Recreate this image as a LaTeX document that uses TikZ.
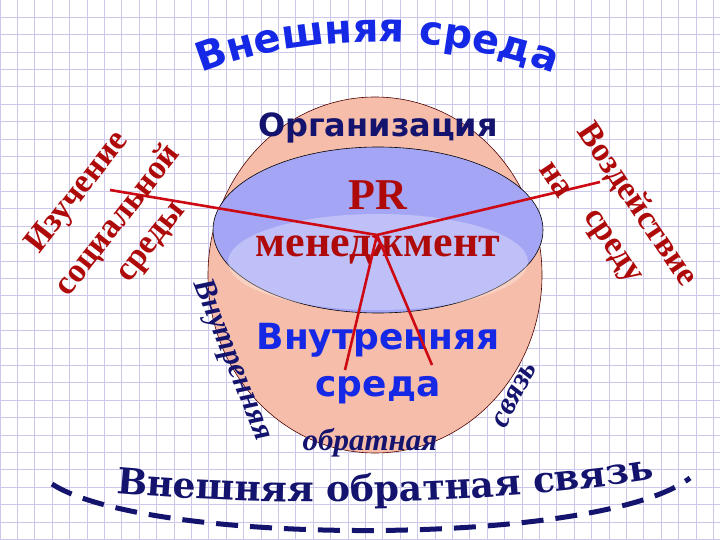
\documentclass[tikz,border=0pt]{standalone}
\usepackage{fontspec}
\setmainfont{DejaVu Sans}
\newfontfamily\dvb{DejaVu Sans Bold}
\newfontfamily\monob{Liberation Serif Bold}
\newfontfamily\dsb{DejaVu Serif Bold}
\newfontfamily\serbi{Liberation Serif Bold Italic}
\usetikzlibrary{decorations.text}
\definecolor{gridc}{RGB}{205,200,235}
\definecolor{peach}{RGB}{246,190,170}
\definecolor{lblue}{RGB}{165,165,245}
\definecolor{navy}{RGB}{20,20,110}
\definecolor{dred}{RGB}{175,10,10}
\definecolor{bblue}{RGB}{20,40,230}
\definecolor{lred}{RGB}{205,10,20}
\tikzset{redtxt/.style={text=dred,font=\monob\fontsize{34}{34}\selectfont},
 bluit/.style={text=navy,font=\serbi\fontsize{31}{31}\selectfont},
 ray/.style={draw=lred,line width=2.6pt}}
\begin{document}
\begin{tikzpicture}[x=1pt,y=-1pt]
\useasboundingbox (0,0) rectangle (720,540);
\fill[white] (0,0) rectangle (720,540);
\foreach \i in {0,...,42} {\draw[gridc,line width=1pt] (\i*17.4,0) -- (\i*17.4,540);}
\foreach \i in {0,...,31} {\draw[gridc,line width=1pt] (0,\i*17.4) -- (720,\i*17.4);}
% circles
\filldraw[fill=peach,draw=black!70!red,line width=0.6pt] (375,275) ellipse [x radius=167,y radius=178];
\filldraw[fill=lblue,draw=black,line width=0.6pt] (378,230) ellipse [x radius=165,y radius=83];
\fill[white,opacity=0.3] (378,262) ellipse [x radius=150,y radius=48];
% texts in circle
\node[text=navy,font=\dvb\fontsize{32}{32}\selectfont] (org) at (378,128) {Организация};
\node[text=dred,font=\monob\fontsize{44}{44}\selectfont] (pr) at (378,195) {PR};
\node[text=dred,font=\monob\fontsize{44}{44}\selectfont] (men) at (378,250) {менеджмент};
\node[text=bblue,font=\dvb\fontsize{36}{36}\selectfont] (vn) at (378,340) {Внутренняя};
\node[text=bblue,font=\dvb\fontsize{36}{36}\selectfont] (sr) at (378,390) {среда};
% rays
\coordinate (c) at (377,235);
\coordinate (e1) at (110,190);
\coordinate (e2) at (600,182);
\coordinate (e3) at (345,370);
\coordinate (e4) at (432,365);
\draw[ray] (c) -- (e1);
\draw[ray] (c) -- (e2);
\draw[ray] (c) -- (e3);
\draw[ray] (c) -- (e4);
% left texts
\node[redtxt,rotate=52] (t1) at (78,193) {Изучение};
\node[redtxt,rotate=52] (t2) at (118,220) {социальной};
\node[redtxt,rotate=52] (t3) at (154,244) {среды};
% right texts
\node[redtxt,rotate=-56] (t4) at (637,205) {Воздействие};
\node[redtxt,rotate=-56] (t5) at (555,180) {на};
\node[redtxt,rotate=-56] (t6) at (610,248) {среду};
% feedback texts
\node[bluit,rotate=-68] (t7) at (232,360) {Внутренняя};
\node[bluit] (t8) at (370,443) {обратная};
\node[bluit,rotate=62] (t9) at (515,395) {связь};
% top arc text
\path[decorate,decoration={text along path,text align=center,
  text={|\dvb\fontsize{40}{40}\selectfont\color{bblue}|Внешняя среда}}]
  (190,78) .. controls (300,30) and (450,30) .. (565,78);
% bottom arc text
\path[decorate,decoration={text along path,text align=center,
  text={|\dsb\fontsize{36}{36}\selectfont\color{navy}|Внешняя обратная связь}}]
  (85,490) .. controls (250,508) and (500,508) .. (685,474);
% dashed
\draw[navy,line width=5pt,dash pattern=on 22pt off 12pt] (52,484) .. controls (150,547) and (600,547) .. (690,478);
\end{tikzpicture}
\end{document}
